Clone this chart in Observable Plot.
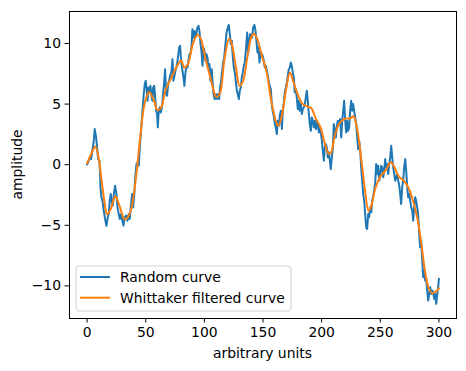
<!DOCTYPE html>
<html><head><meta charset="utf-8">
<script src="https://cdn.jsdelivr.net/npm/d3@7"></script>
<script src="https://cdn.jsdelivr.net/npm/@observablehq/plot@0.6"></script>
<style>body{margin:0;background:#fff}</style>
</head><body><div id="chart"></div>
<script>
const randX = [0.0,1.4,2.8,3.4,4.5,5.7,6.5,7.7,8.5,9.4,10.5,11.1,11.4,12.2,13.1,14.2,15.6,16.5,17.6,18.5,19.3,20.2,20.8,21.9,23.0,23.9,25.0,25.9,27.0,27.9,29.0,30.1,31.0,32.1,33.3,34.4,35.5,36.4,37.5,38.4,39.2,40.1,40.9,42.1,43.2,44.1,44.9,45.8,46.6,47.5,48.3,49.2,50.0,50.9,51.5,52.3,53.2,54.0,54.9,55.7,56.3,57.2,58.0,58.9,59.7,60.3,61.1,62.0,62.8,64.0,64.8,65.7,66.5,67.4,68.2,69.1,69.9,70.8,71.9,72.8,73.6,74.5,75.3,76.2,77.3,78.5,79.3,80.2,81.3,82.2,83.0,83.9,84.7,85.6,86.4,87.3,88.1,89.0,89.8,90.7,91.6,92.4,93.3,94.1,95.0,95.8,96.7,97.5,98.4,99.2,100.1,100.9,101.8,102.6,103.5,104.4,105.2,106.3,107.2,108.0,108.9,110.0,110.9,111.7,112.6,113.4,114.3,115.2,116.0,116.9,118.0,118.9,120.0,120.8,121.7,122.5,123.4,124.3,125.1,126.0,126.8,127.7,128.5,129.4,130.2,131.1,131.9,132.8,133.6,134.5,135.6,136.5,137.3,138.2,139.0,139.9,140.7,141.6,142.7,143.6,144.4,145.3,146.1,147.0,147.9,149.0,149.8,150.7,151.5,152.4,153.3,154.1,155.0,155.8,156.7,157.5,158.4,159.2,160.1,160.9,161.8,162.6,163.5,164.3,165.2,166.1,166.9,167.8,168.6,169.5,170.3,171.2,172.0,172.9,173.7,174.6,175.4,176.3,177.1,178.0,178.8,179.7,180.5,181.4,182.3,183.1,184.0,184.8,185.7,186.5,187.4,188.2,189.1,189.9,190.8,191.6,192.5,193.3,194.2,195.1,195.9,196.8,197.6,198.5,199.3,200.2,201.0,201.9,202.7,203.6,204.4,205.3,206.1,207.0,207.8,208.7,209.6,210.4,211.3,212.1,213.0,213.8,215.0,215.8,216.7,217.5,218.4,219.2,220.1,220.9,221.8,222.6,223.5,224.3,225.2,226.0,226.9,227.7,228.6,229.5,230.3,231.2,232.0,232.9,233.7,234.6,235.4,236.3,237.1,238.0,238.8,239.7,240.5,241.4,242.3,243.1,244.0,244.8,245.7,246.5,247.4,248.2,249.1,249.9,250.8,251.6,252.5,253.3,254.2,255.0,255.9,256.8,257.6,258.5,259.3,260.2,261.0,261.9,262.7,263.6,264.4,265.3,266.2,267.0,267.8,268.7,269.5,270.4,271.3,272.1,273.0,273.8,274.7,275.5,276.4,277.2,278.1,278.9,279.8,280.6,281.5,282.3,283.2,284.0,284.9,285.8,286.6,287.5,288.3,289.2,290.0,290.9,291.7,292.6,293.4,294.3,295.1,296.0,296.8,297.7,298.6,299.4,300.0];
const randY = [0.00,0.33,0.74,0.47,1.15,1.98,2.94,2.25,1.43,0.47,0.33,-0.77,-1.87,-2.69,-2.97,-3.79,-4.62,-5.05,-4.34,-4.07,-2.97,-2.42,-2.97,-3.38,-2.28,-1.73,-2.42,-3.52,-4.07,-4.48,-4.07,-4.62,-5.03,-4.34,-4.20,-4.62,-4.07,-4.48,-3.24,-2.42,-3.52,-2.69,-1.32,0.05,0.19,-0.08,1.43,2.53,3.63,4.73,5.82,6.65,6.92,6.10,5.27,6.37,5.96,6.51,5.69,5.27,6.37,6.51,5.55,4.45,4.18,3.08,4.45,4.73,4.31,4.86,5.82,6.79,7.88,5.82,5.69,6.65,6.92,7.34,7.61,8.71,6.92,7.34,7.75,8.02,8.71,9.67,9.81,8.57,7.75,7.20,6.51,7.61,8.16,8.02,8.57,9.12,9.12,9.67,11.18,10.49,11.04,10.49,10.91,11.32,11.46,11.04,9.95,9.40,8.16,9.67,9.40,8.57,9.12,8.85,8.02,8.30,6.92,7.88,6.51,5.69,5.41,5.82,5.41,5.82,5.41,6.37,6.92,7.75,8.43,8.85,9.95,10.91,11.32,11.54,10.77,9.95,10.22,8.85,8.02,7.61,6.92,6.10,5.82,5.41,6.10,6.37,7.20,7.61,8.16,8.43,9.67,10.91,9.12,10.22,10.77,10.77,10.49,11.32,11.54,11.04,10.22,9.26,9.67,8.43,9.26,9.12,8.98,8.57,8.02,8.16,7.75,7.34,6.79,6.51,6.24,5.00,4.31,4.04,3.35,3.08,2.53,3.63,3.21,4.04,4.45,2.94,4.45,5.14,5.96,6.37,6.79,7.34,7.88,8.02,8.43,8.16,7.61,7.20,5.96,6.24,5.55,4.59,5.27,4.45,5.00,4.18,4.59,4.73,5.00,5.55,6.10,5.27,4.18,3.35,2.80,3.90,3.63,3.08,3.63,2.94,3.63,3.35,2.66,3.08,2.66,1.98,1.15,0.33,1.43,1.70,1.43,0.60,1.02,0.33,-0.36,0.60,1.43,3.35,2.80,2.25,3.21,3.63,3.49,3.76,2.25,3.63,4.45,5.27,3.63,2.66,3.63,2.80,3.08,4.45,5.27,4.45,5.00,4.45,3.90,3.35,2.25,1.29,1.98,1.15,-0.22,-1.32,-2.42,-2.97,-4.07,-5.16,-5.30,-4.07,-4.34,-3.52,-3.93,-2.97,-2.55,-2.14,-1.46,0.05,-0.77,-0.08,-1.32,-0.77,-0.08,-0.22,-1.04,-0.49,0.47,-0.22,0.05,-0.77,0.05,0.60,1.57,0.60,-0.22,-0.77,-1.32,-1.04,-0.77,-1.32,-1.73,-2.42,-3.24,-1.87,-1.32,-0.22,0.47,-0.49,-1.87,-2.69,-2.42,-2.97,-3.52,-3.79,-4.62,-3.52,-2.69,-2.97,-3.52,-4.07,-5.71,-6.81,-6.26,-7.91,-9.29,-8.74,-9.56,-9.42,-10.38,-11.21,-10.66,-10.11,-10.66,-10.38,-10.52,-11.07,-10.66,-11.48,-10.66,-10.11,-9.42];
const smoothX = [0,5,7,10,12,15,17,20,24,28,32,35,38,42,45,48,50,53,57,60,63,67,72,77,80,83,86,90,94,97,100,104,108,110,113,117,121,123,127,130,133,137,140,142,145,149,153,157,161,163,166,170,173,176,180,184,188,191,195,199,202,206,208,211,215,220,224,227,230,234,237,240,242,246,250,255,259,262,266,270,274,278,282,285,288,291,294,297,300];
const smoothY = [0.1,1.2,1.5,0.5,-1.0,-3.2,-4.1,-3.7,-2.6,-3.5,-4.5,-4.3,-3.5,-0.8,2.0,4.5,5.4,6.0,5.3,4.5,4.7,6.2,7.2,8.2,8.6,8.0,8.3,9.9,10.7,10.4,9.1,7.6,6.1,5.6,5.8,8.6,10.4,10.1,8.0,6.5,6.9,9.1,10.5,10.8,10.4,9.0,7.7,5.3,3.6,3.2,4.0,6.4,7.6,6.8,5.7,5.0,4.8,4.7,3.8,3.1,2.0,0.9,1.0,2.3,3.4,3.8,3.8,4.0,3.1,0.3,-2.1,-3.8,-3.5,-1.9,-1.0,-0.4,0.2,-0.2,-1.0,-1.3,-1.9,-3.0,-4.6,-6.5,-8.7,-10.1,-10.6,-10.5,-10.2];
const xTicks = [0,50,100,150,200,250,300];
const yTicks = [-10,-5,0,5,10];
const seriesNames = ["Random curve","Whittaker filtered curve"];
const seriesColors = ["#1f77b4","#ff7f0e"];
const xLabel = "arbitrary units";
const yLabel = "amplitude";

const randData = randX.map((x,i)=>({x, y: randY[i]}));
const smoothData = smoothX.map((x,i)=>({x, y: smoothY[i]}));

const W = 466, H = 371;
const mL = 69, mR = 10, mT = 11, mB = 53;
const font = "DejaVu Sans, sans-serif";
const fs = "13.9px";

const plot = Plot.plot({
  width: W, height: H,
  marginLeft: mL, marginRight: mR, marginTop: mT, marginBottom: mB,
  style: {fontFamily: font, fontSize: fs, color: "#000", background: "#fff", overflow: "visible"},
  x: {domain: [-15, 315]},
  y: {domain: [-12.69, 12.64]},
  marks: [
    Plot.line(randData, {x: "x", y: "y", stroke: seriesColors[0], strokeWidth: 2}),
    Plot.line(smoothData, {x: "x", y: "y", stroke: seriesColors[1], strokeWidth: 2, curve: "catmull-rom"}),
    Plot.frame({stroke: "#000", strokeWidth: 1}),
    Plot.axisX({ticks: xTicks, tickSize: 4.5, tickPadding: 4, label: null, fontSize: fs}),
    Plot.axisY({ticks: yTicks, tickSize: 4.5, tickPadding: 4, label: null, fontSize: fs})
  ]
});
document.getElementById("chart").appendChild(plot);

const svg = d3.select(plot);
svg.append("text").attr("x", (mL + W - mR)/2).attr("y", 353).attr("text-anchor","middle")
  .attr("dominant-baseline","central").attr("fill","#000").style("font-family",font).style("font-size",fs).text(xLabel);
svg.append("text").attr("transform", `translate(17,${(mT + H - mB)/2}) rotate(-90)`).attr("text-anchor","middle")
  .attr("dominant-baseline","central").attr("fill","#000").style("font-family",font).style("font-size",fs).text(yLabel);

const lg = svg.append("g");
lg.append("rect").attr("x",76).attr("y",266).attr("width",215).attr("height",45).attr("rx",3)
  .attr("fill","#fff").attr("fill-opacity",0.8).attr("stroke","#d0d0d0").attr("stroke-width",1);
seriesNames.forEach((n,i)=>{
  const cy = 277 + i*20.7;
  lg.append("line").attr("x1",80).attr("x2",110).attr("y1",cy).attr("y2",cy)
    .attr("stroke",seriesColors[i]).attr("stroke-width",2);
  lg.append("text").attr("x",120).attr("y",cy).attr("text-anchor","start").attr("dominant-baseline","central")
    .attr("fill","#000").style("font-family",font).style("font-size",fs).text(n);
});
</script>
</body></html>
